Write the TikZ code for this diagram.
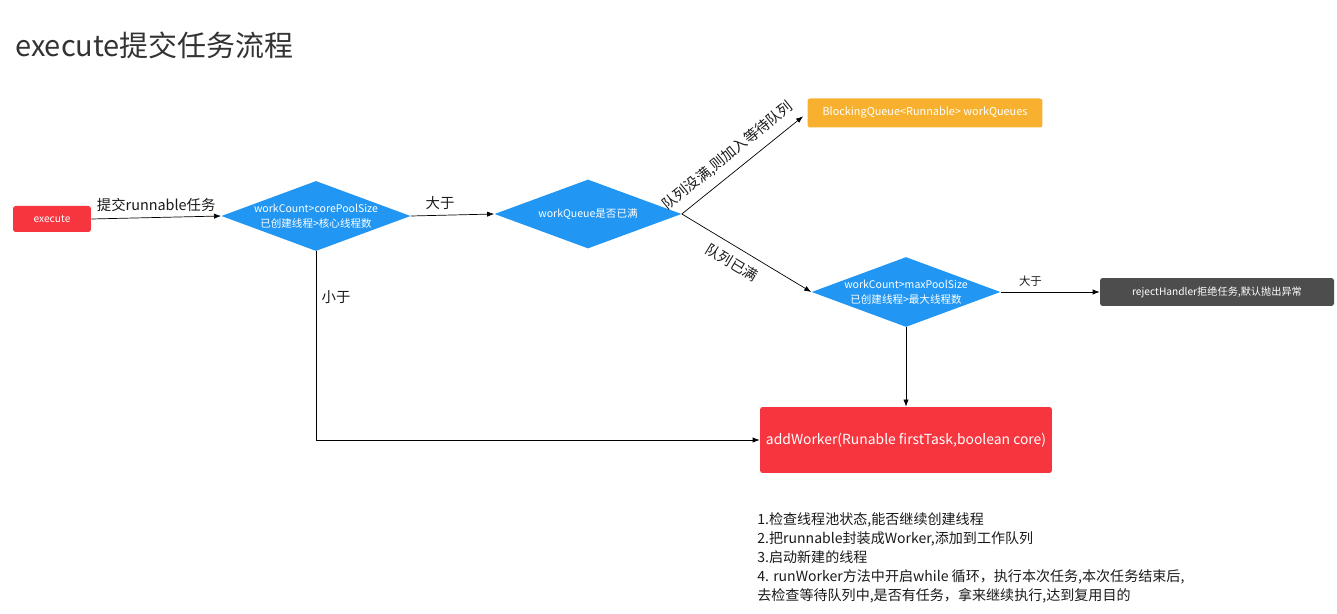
\documentclass[tikz,border=0pt]{standalone}
\usepackage{fontspec}
\setmainfont{Noto Sans CJK SC}
\usepackage{tikz}
\usetikzlibrary{shapes.geometric,arrows.meta,positioning}
\definecolor{boxred}{RGB}{246,53,63}
\definecolor{flowblue}{RGB}{33,150,243}
\definecolor{queueorange}{RGB}{247,177,47}
\definecolor{rejectgray}{RGB}{77,77,77}
\definecolor{titlegray}{RGB}{51,51,51}
\tikzset{
    -{Latex[length=4pt,width=3pt]},auto,x=0.02cm,y=-0.02cm,
    line width=0.45pt,draw=black!65,
    box/.style ={rectangle, rounded corners=1.5pt, text=white, inner sep=0pt},
    decision/.style ={diamond, aspect=2.7, fill=flowblue, text=white, align=center, inner sep=0pt,
        minimum width=3.74cm, minimum height=1.38cm, font=\fontsize{6}{8.5}\selectfont},
    lbl/.style = {font=\fontsize{8.2}{10}\selectfont, text=black!90, inner sep=3pt},
    small/.style = {font=\fontsize{5.8}{7}\selectfont}
}
\begin{document}
\begin{tikzpicture}
    \useasboundingbox (0,0) rectangle (1337,614);
    \node[anchor=west, text=titlegray, font=\fontsize{16.5}{20}\selectfont] (title) at (9,45) {execute提交任务流程};

    \node[box, fill=boxred, small, minimum width=1.56cm, minimum height=0.52cm] (exec) at (52,219) {execute};
    \node[decision] (core) at (316,216) {workCount>corePoolSize\\已创建线程>核心线程数};
    \node[decision] (full) at (588,214) {workQueue是否已满};
    \node[box, fill=queueorange, font=\fontsize{6.2}{7}\selectfont, minimum width=4.7cm, minimum height=0.58cm] (queue) at (925,113) {BlockingQueue<Runnable> workQueues};
    \node[decision] (max) at (906,292) {workCount>maxPoolSize\\已创建线程>最大线程数};
    \node[box, fill=rejectgray, small, minimum width=4.68cm, minimum height=0.56cm] (reject) at (1217,292) {rejectHandler拒绝任务,默认抛出异常};
    \node[box, fill=boxred, font=\fontsize{7.9}{10}\selectfont, minimum width=5.84cm, minimum height=1.32cm] (worker) at (906,440) {addWorker(Runable firstTask,boolean core)};

    \node[anchor=north west, align=left, text=black!90, font=\fontsize{8}{10.8}\selectfont, inner sep=0pt] (steps) at (757,512) {1.检查线程池状态,能否继续创建线程\\2.把runnable封装成Worker,添加到工作队列\\3.启动新建的线程\\4. runWorker方法中开启while 循环，执行本次任务,本次任务结束后,\\去检查等待队列中,是否有任务，拿来继续执行,达到复用目的};

    \path (exec.east) edge node[lbl, above] {提交runnable任务} (core.west);
    \path (core.east) edge node[lbl, above, pos=0.35] {大于} (full.west);
    \path (full.east) edge[shorten >=3pt] node[lbl, sloped, above, inner sep=5pt, pos=0.45] {队列没满,则加入等待队列} (queue.west);
    \path (full.east) edge node[lbl, sloped, below, pos=0.45, inner sep=5pt] {队列已满} (max.west);
    \path (max.east) edge node[lbl, above, pos=0.3, font=\fontsize{6.5}{8}\selectfont] {大于} (reject.west);
    \path (max.south) edge (worker.north);
    \draw (core.south) |- node[lbl, right, pos=0.12] {小于} (worker.west);
\end{tikzpicture}
\end{document}
